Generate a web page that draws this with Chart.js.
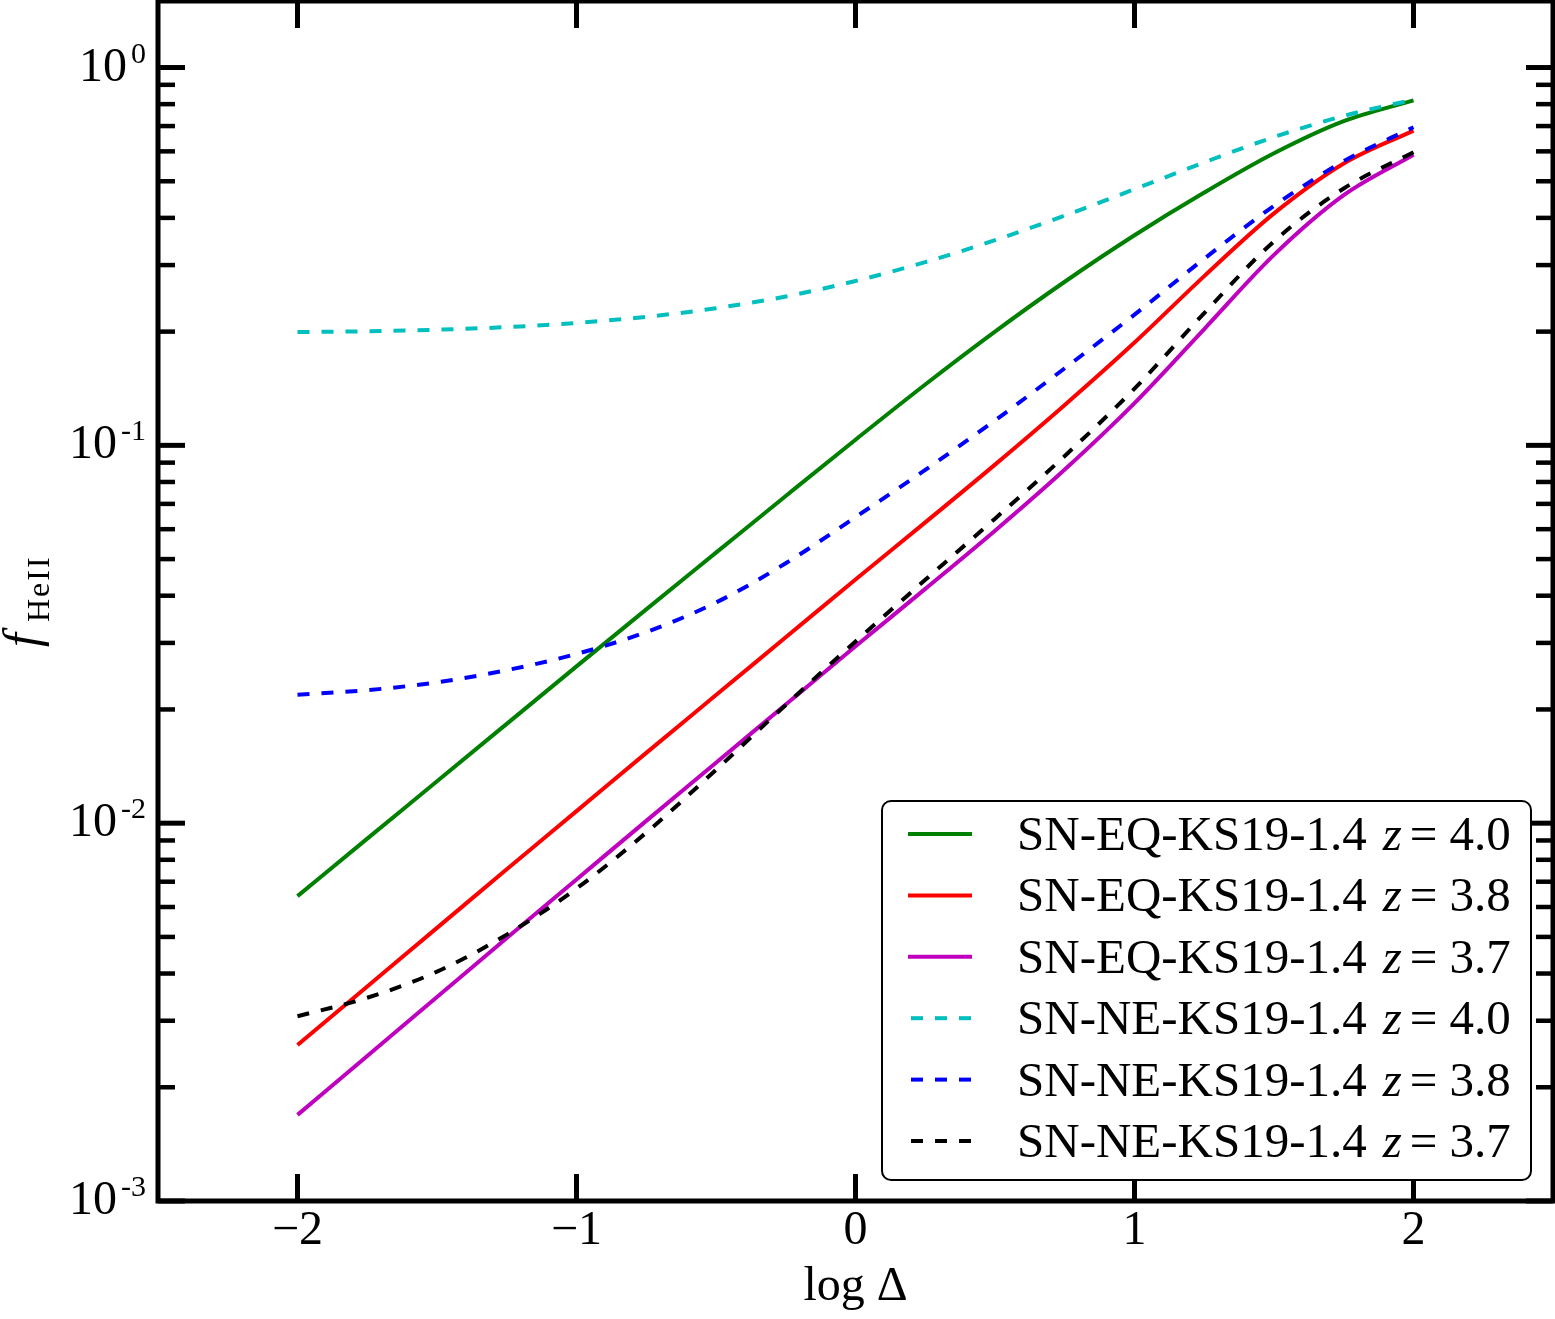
<!DOCTYPE html>
<html>
<head>
<meta charset="utf-8">
<script src="https://cdn.jsdelivr.net/npm/chart.js@4.4.0/dist/chart.umd.min.js"></script>
<style>
html,body{margin:0;padding:0;background:#fff;}
#wrap{width:1555px;height:1319px;position:relative;}
</style>
</head>
<body>
<div id="wrap"><canvas id="c" width="1555" height="1319"></canvas></div>
<script>
// ---- data ----
const logDelta = [-2, -1.75, -1.5, -1.25, -1, -0.75, -0.5, -0.25, 0, 0.25, 0.5, 0.75, 1, 1.25, 1.5, 1.75, 2];

const eqZ40 = [0.00641, 0.00910, 0.01291, 0.01832, 0.02600, 0.03681, 0.05200, 0.07345, 0.1035, 0.1449, 0.2000, 0.2710, 0.3597, 0.4667, 0.5929, 0.7211, 0.8185];
const eqZ38 = [0.002588, 0.003698, 0.005284, 0.007551, 0.01076, 0.01535, 0.02183, 0.03105, 0.04416, 0.06252, 0.08892, 0.1279, 0.1871, 0.2805, 0.4111, 0.5572, 0.6808];
const eqZ37 = [0.00169, 0.002421, 0.003467, 0.004966, 0.007096, 0.01014, 0.01445, 0.02061, 0.02938, 0.04169, 0.05943, 0.08630, 0.1294, 0.2032, 0.3192, 0.4592, 0.5875];
const neZ40 = [0.1995, 0.2004, 0.2023, 0.2056, 0.2109, 0.2188, 0.2307, 0.2477, 0.2723, 0.3055, 0.3491, 0.4055, 0.4764, 0.5610, 0.6546, 0.7447, 0.8222];
const neZ38 = [0.02188, 0.02249, 0.02360, 0.02541, 0.02805, 0.03206, 0.03837, 0.04875, 0.06457, 0.08610, 0.1164, 0.1600, 0.2218, 0.3119, 0.4305, 0.5649, 0.6950];
const neZ37 = [0.003083, 0.003451, 0.004046, 0.005070, 0.006714, 0.009441, 0.01384, 0.02056, 0.03027, 0.04406, 0.06397, 0.09376, 0.1413, 0.2239, 0.3467, 0.4786, 0.5970];

const seriesNames = ['SN-EQ-KS19-1.4', 'SN-EQ-KS19-1.4', 'SN-EQ-KS19-1.4', 'SN-NE-KS19-1.4', 'SN-NE-KS19-1.4', 'SN-NE-KS19-1.4'];
const seriesRedshifts = ['4.0', '3.8', '3.7', '4.0', '3.8', '3.7'];

const xTickValues = [-2, -1, 0, 1, 2];
const yTickValues = [1, 0.1, 0.01, 0.001];
const yTickExponents = ['0', '-1', '-2', '-3'];

const xAxisTitle = 'log Δ';
const yAxisTitleMain = 'f';
const yAxisTitleSub = 'HeII';

// ---- styles ----
const seriesColors = ['#008000', '#ff0000', '#bf00bf', '#00bfbf', '#0000ff', '#000000'];
const seriesDashed = [false, false, false, true, true, true];
const FONT = '"Liberation Serif", "DejaVu Serif", serif';

const seriesValues = [eqZ40, eqZ38, eqZ37, neZ40, neZ38, neZ37];

const datasets = seriesValues.map((vals, i) => ({
  label: seriesNames[i] + ' z = ' + seriesRedshifts[i],
  data: logDelta.map((x, j) => ({ x: x, y: vals[j] })),
  borderColor: seriesColors[i],
  backgroundColor: seriesColors[i],
  borderWidth: 4,
  borderDash: seriesDashed[i] ? [12, 12] : [],
  pointRadius: 0,
  pointHoverRadius: 0,
  fill: false,
  cubicInterpolationMode: 'monotone',
  order: seriesValues.length - i
}));

function strokeLine(ctx, x1, y1, x2, y2) {
  ctx.beginPath(); ctx.moveTo(x1, y1); ctx.lineTo(x2, y2); ctx.stroke();
}

const decorPlugin = {
  id: 'decor',
  afterDraw(chart) {
    const ctx = chart.ctx;
    const a = chart.chartArea;
    const xs = chart.scales.x, ys = chart.scales.y;
    ctx.save();
    ctx.strokeStyle = '#000';
    ctx.fillStyle = '#000';
    ctx.lineCap = 'butt';
    const majorLen = 27, minorLen = 17;

    // x ticks (inward, bottom and top)
    ctx.lineWidth = 5;
    xTickValues.forEach(v => {
      const px = xs.getPixelForValue(v);
      strokeLine(ctx, px, a.bottom, px, a.bottom - majorLen);
      strokeLine(ctx, px, a.top, px, a.top + majorLen);
    });
    // y ticks (major + minor, inward, left and right)
    for (let e = -3; e <= 0; e++) {
      for (let m = 1; m <= 9; m++) {
        const v = m * Math.pow(10, e);
        if (v < ys.min * 0.999 || v > ys.max) continue;
        const py = ys.getPixelForValue(v);
        const len = m === 1 ? majorLen : minorLen;
        ctx.lineWidth = m === 1 ? 5 : 4.5;
        strokeLine(ctx, a.left, py, a.left + len, py);
        strokeLine(ctx, a.right, py, a.right - len, py);
      }
    }
    // frame
    ctx.lineWidth = 5;
    ctx.strokeRect(a.left, a.top, a.right - a.left, a.bottom - a.top);

    // y tick labels 10^n
    ctx.textBaseline = 'alphabetic';
    ctx.textAlign = 'left';
    yTickValues.forEach((v, i) => {
      const py = ys.getPixelForValue(v);
      ctx.font = '48px ' + FONT;
      const baseW = ctx.measureText('10').width;
      ctx.font = '30px ' + FONT;
      const supW = ctx.measureText(yTickExponents[i]).width;
      const xEnd = a.left - 12;
      ctx.font = '48px ' + FONT;
      ctx.fillText('10', xEnd - supW - 4 - baseW, py + 13);
      ctx.font = '30px ' + FONT;
      ctx.fillText(yTickExponents[i], xEnd - supW, py - 5);
    });

    // y axis title f_HeII
    const cy = (a.top + a.bottom) / 2;
    ctx.save();
    ctx.translate(38, cy);
    ctx.rotate(-Math.PI / 2);
    ctx.font = 'italic 50px ' + FONT;
    ctx.fillText(yAxisTitleMain, -46, 0);
    ctx.font = '32px ' + FONT;
    if ('letterSpacing' in ctx) ctx.letterSpacing = '2px';
    ctx.fillText(yAxisTitleSub, -21, 11);
    if ('letterSpacing' in ctx) ctx.letterSpacing = '0px';
    ctx.restore();

    // legend
    const bx = a.right - 671, by = a.bottom - 400, bw = 649, bh = 379;
    ctx.beginPath();
    if (ctx.roundRect) ctx.roundRect(bx, by, bw, bh, 9); else ctx.rect(bx, by, bw, bh);
    ctx.fillStyle = '#fff';
    ctx.fill();
    ctx.lineWidth = 2;
    ctx.strokeStyle = '#000';
    ctx.stroke();

    chart.data.datasets.forEach((ds, i) => {
      const rowY = by + 33 + i * 61.4;
      ctx.strokeStyle = ds.borderColor;
      ctx.lineWidth = 4;
      ctx.setLineDash(seriesDashed[i] ? [12, 12] : []);
      ctx.lineDashOffset = seriesDashed[i] ? -3 : 0;
      strokeLine(ctx, bx + 26, rowY, bx + 90, rowY);
      ctx.setLineDash([]);
      ctx.lineDashOffset = 0;
      ctx.fillStyle = '#000';
      const baseY = rowY + 16;
      let tx = bx + 135;
      ctx.font = '49px ' + FONT;
      ctx.fillText(seriesNames[i], tx, baseY);
      tx += ctx.measureText(seriesNames[i]).width + 16;
      ctx.font = 'italic 49px ' + FONT;
      ctx.fillText('z', tx, baseY);
      tx += ctx.measureText('z').width + 8;
      ctx.font = '49px ' + FONT;
      ctx.fillText('=', tx, baseY);
      tx += ctx.measureText('=').width + 12;
      ctx.fillText(seriesRedshifts[i], tx, baseY);
    });
    ctx.restore();
  }
};

new Chart(document.getElementById('c'), {
  type: 'line',
  data: { datasets: datasets },
  options: {
    responsive: false,
    animation: false,
    devicePixelRatio: 1,
    layout: { padding: { top: 1, right: 2, left: 0, bottom: 0 } },
    plugins: { legend: { display: false }, tooltip: { enabled: false } },
    scales: {
      x: {
        type: 'linear', min: -2.5, max: 2.5,
        afterBuildTicks: s => { s.ticks = xTickValues.map(v => ({ value: v })); },
        afterFit: s => { s.height = 118; },
        grid: { display: false, drawTicks: false },
        border: { display: false },
        ticks: {
          padding: 2, color: '#000', maxRotation: 0, autoSkip: false,
          font: { family: FONT, size: 48 },
          callback: v => String(v).replace('-', '\u2212')
        },
        title: {
          display: true, text: xAxisTitle, color: '#000',
          font: { family: FONT, size: 48 },
          padding: { top: 0, bottom: 3 }
        }
      },
      y: {
        type: 'logarithmic', min: 0.001, max: 1.5,
        afterFit: s => { s.width = 158; },
        grid: { display: false, drawTicks: false },
        border: { display: false },
        ticks: { display: false }
      }
    }
  },
  plugins: [decorPlugin]
});
</script>
</body>
</html>
